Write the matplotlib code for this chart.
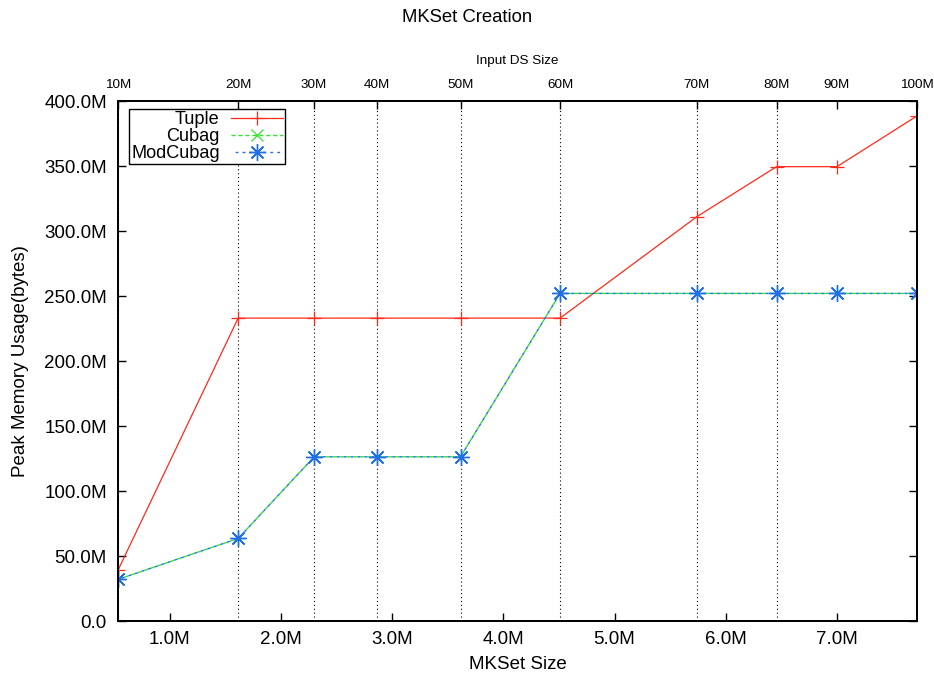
import matplotlib
matplotlib.use("Agg")
import matplotlib.pyplot as plt
from matplotlib.ticker import FuncFormatter, MultipleLocator

plt.rcParams["font.family"] = ["Liberation Sans", "DejaVu Sans"]

# MKSet size (millions) for each input data set size
mkset_size = [0.534, 1.615, 2.298, 2.865, 3.615, 4.51, 5.74, 6.457, 7.0, 7.72]
input_ds = ["10M", "20M", "30M", "40M", "50M", "60M", "70M", "80M", "90M", "100M"]

# peak memory usage (millions of bytes)
tuple_mem = [39, 233, 233, 233, 233, 233, 311, 349.5, 349.5, 388.5]
cubag_mem = [32, 63.5, 126.3, 126.3, 126.3, 252, 252, 252, 252, 252]
modcubag_mem = [32, 63.5, 126.3, 126.3, 126.3, 252, 252, 252, 252, 252]

fig = plt.figure(figsize=(9.34, 6.77), dpi=100)
ax = fig.add_axes([0.1263, 0.0827, 0.8555, 0.7681])

ax.plot(mkset_size, tuple_mem, color="#ff2a1a", linewidth=0.9,
        marker="+", markersize=10, markeredgewidth=0.9, label="Tuple")
ax.plot(mkset_size, cubag_mem, color="#33e033", linewidth=1.0,
        linestyle=(0, (3, 2)), marker="x", markersize=9, markeredgewidth=0.9,
        label="Cubag")
ax.plot(mkset_size, modcubag_mem, color="#1f6fe8", linewidth=1.0,
        linestyle=(2, (2, 3)), marker=(8, 2, 0), markersize=12,
        markeredgewidth=1.0, label="ModCubag")

ax.set_xlim(mkset_size[0], mkset_size[-1])
ax.set_ylim(0, 400)
ax.xaxis.set_major_locator(MultipleLocator(1.0))
ax.yaxis.set_major_locator(MultipleLocator(50))
ax.xaxis.set_major_formatter(FuncFormatter(lambda v, p: f"{v:.1f}M"))
ax.yaxis.set_major_formatter(FuncFormatter(lambda v, p: "0.0" if v == 0 else f"{v:.1f}M"))

# dotted vertical grid at the input size positions
ax.set_xticks(mkset_size, minor=True)
ax.grid(which="minor", axis="x", linestyle=(0, (1, 2.5)), color="black", linewidth=0.8)
ax.tick_params(axis="x", which="minor", length=0)

ax.tick_params(axis="both", which="major", direction="in", length=6, width=1,
               labelsize=13.5, pad=7)
ax.tick_params(axis="y", right=True)
ax.tick_params(axis="y", pad=8)
for s in ax.spines.values():
    s.set_linewidth(1.3)

ax.set_xlabel("MKSet Size", fontsize=13.5, labelpad=6)
ax.set_ylabel("Peak Memory Usage(bytes)", fontsize=13.5, labelpad=11)

ax2 = ax.twiny()
ax2.set_xlim(ax.get_xlim())
ax2.set_xticks(mkset_size)
ax2.set_xticklabels(input_ds)
ax2.tick_params(axis="x", direction="in", length=6, width=1, labelsize=9.7, pad=7)
ax2.set_xlabel("Input DS Size", fontsize=9.7, labelpad=11)
for s in ax2.spines.values():
    s.set_linewidth(1.3)

leg = ax.legend(loc="upper left", bbox_to_anchor=(0.0141, 0.984), borderaxespad=0,
                fontsize=13.1, markerfirst=False, handlelength=2.9,
                handletextpad=0.6, labelspacing=0.0, borderpad=0.1,
                fancybox=False, framealpha=1, edgecolor="black")
leg.get_frame().set_linewidth(1.0)

fig.suptitle("MKSet Creation", fontsize=13.3, y=0.974, va="center")

fig.savefig("out.png", dpi=100)
